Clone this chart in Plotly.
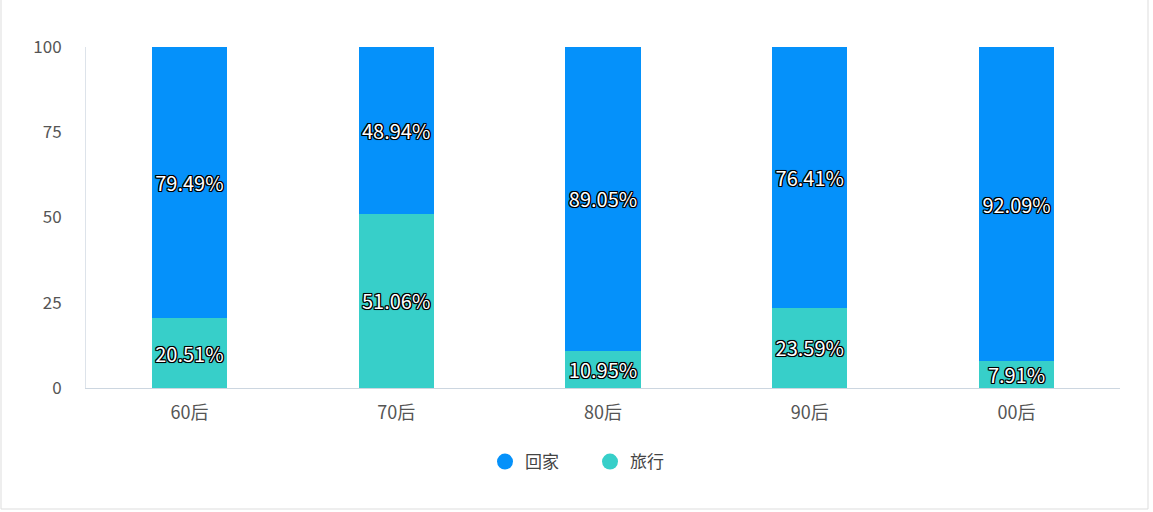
import plotly.graph_objects as go

categories = ["60后", "70后", "80后", "90后", "00后"]
home_values = [79.49, 48.94, 89.05, 76.41, 92.09]
travel_values = [20.51, 51.06, 10.95, 23.59, 7.91]
y_ticks = [0, 25, 50, 75, 100]

series_names = ["回家", "旅行"]
colors = {"回家": "#0591fa", "旅行": "#37cfc9"}

FONT = "Microsoft YaHei, Noto Sans CJK SC, sans-serif"
shadow = ("1px 1px 0 #000, -1px -1px 0 #000, 1px -1px 0 #000, -1px 1px 0 #000, "
          "0 1px 0 #000, 0 -1px 0 #000, 1px 0 0 #000, -1px 0 0 #000, 0 0 2px #000")

fig = go.Figure()
for name, vals in [("旅行", travel_values), ("回家", home_values)]:
    fig.add_trace(go.Bar(
        x=categories, y=vals, name=name,
        marker=dict(color=colors[name], line=dict(width=0)),
        text=[f"{v:.2f}%" for v in vals],
        textposition="inside", insidetextanchor="middle",
        constraintext="none",
        textfont=dict(family=FONT, size=20, color="#ffffff", shadow=shadow),
        showlegend=False, hoverinfo="skip",
    ))

# legend entries with circular markers
for name in series_names:
    fig.add_trace(go.Scatter(
        x=[None], y=[None], mode="markers", name=name,
        marker=dict(color=colors[name], size=18, symbol="circle"),
        showlegend=True,
    ))

L, R, T, B = 86, 33, 47, 124
W, H = 1153, 512
pw, ph = W - L - R, H - T - B

fig.update_layout(
    width=W, height=H,
    margin=dict(l=L, r=R, t=T, b=B),
    barmode="stack", bargap=0.637,
    plot_bgcolor="#ffffff", paper_bgcolor="#ffffff",
    font=dict(family=FONT, size=16, color="#555555"),
    legend=dict(orientation="h", x=(485 - L) / pw, xanchor="left",
                y=-(462 - 388) / ph, yanchor="middle",
                traceorder="normal",
                font=dict(family=FONT, size=17, color="#444444"),
                itemwidth=30, entrywidth=60, entrywidthmode="pixels"),
    xaxis=dict(showline=True, linecolor="#ccd6e0", linewidth=1, ticks="",
               showgrid=False, tickfont=dict(size=18, color="#555555"),
               ticklabelstandoff=8, fixedrange=True),
    yaxis=dict(range=[0, 100], tickvals=y_ticks, showline=True, linecolor="#dde3ea",
               linewidth=1, showgrid=False, zeroline=False, ticks="",
               tickfont=dict(size=17, color="#555555"), ticklabelstandoff=20),
    shapes=[dict(type="rect", xref="paper", yref="paper",
                 x0=(1 - L) / pw, x1=(1148 - L) / pw,
                 y0=-(509 - T - ph) / ph, y1=(H - 0.5 - T) / ph,
                 line=dict(color="#dddddd", width=1), fillcolor="rgba(0,0,0,0)",
                 layer="below")],
)

fig.write_html("out.html", config={"displayModeBar": False},
               post_script="document.body.style.margin='0px';")
